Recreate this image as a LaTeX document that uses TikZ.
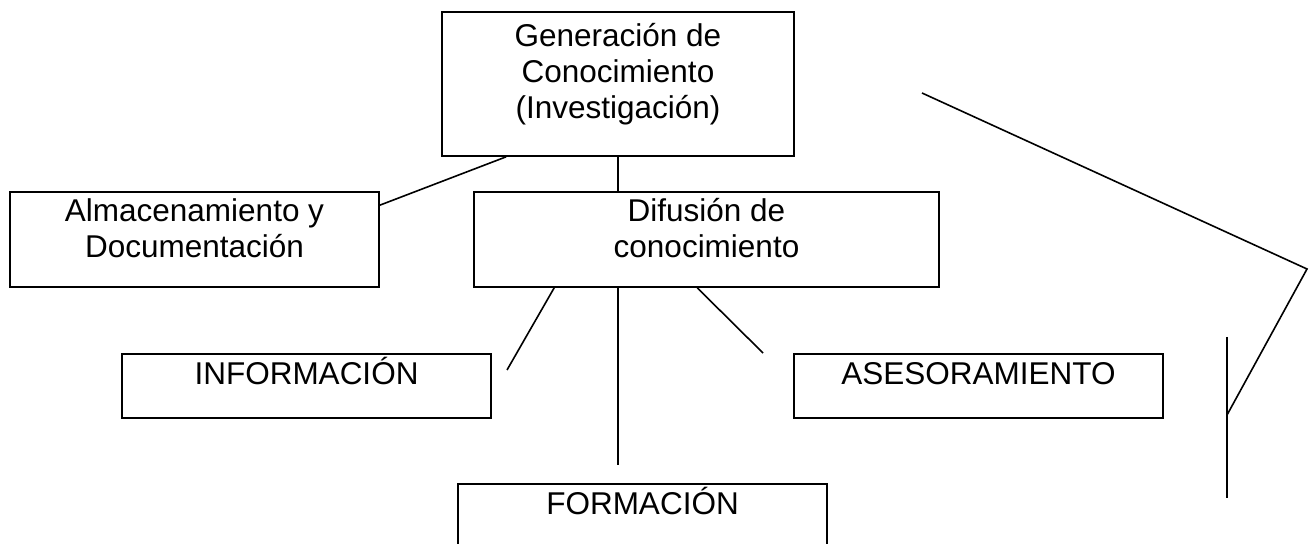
\documentclass[tikz,border=0pt]{standalone}
\usepackage{fontspec}
\setmainfont{Liberation Sans}
\usepackage{tikz}
\usetikzlibrary{calc}

\begin{document}
\begin{tikzpicture}[x=0.5pt,y=-0.5pt,line width=0.8pt,
  box/.style={draw,inner sep=0pt,align=center,minimum width=184.5pt,font=\fontsize{15.75}{18}\selectfont},
  low/.style={box,text height=15.5pt,text depth=16.5pt},
  tall/.style={box,text height=33pt,text depth=14.5pt}]
\useasboundingbox (0,0) rectangle (1311,544);
\node[box,minimum width=176pt,text height=53.5pt,text depth=18.5pt] (gen) at (618,84) {Generación de\\Conocimiento\\(Investigación)};
\node[tall] (alm) at (194.5,239.5) {Almacenamiento y\\Documentación};
\node[tall,minimum width=232.5pt] (dif) at (706.5,239.5) {Difusión de\\conocimiento};
\node[low] (info) at (306.5,386) {INFORMACIÓN};
\node[low] (ases) at (978.5,386) {ASESORAMIENTO};
\node[low] (form) at (642.5,516) {FORMACIÓN};

\coordinate (infoend) at (507,370);
\coordinate (formend) at (618,465);
\coordinate (asesend) at (763,353);
\coordinate (far1) at (922,93);
\coordinate (far2) at (1307,269);
\coordinate (far3) at (1227,415);
\coordinate (bar1) at (1227,337);
\coordinate (bar2) at (1227,498);

\draw ($(gen.south west)+(65,0)$) -- ($(alm.north east)+(0,14)$);
\draw (gen.south) -- (gen.south |- dif.north);
\draw ($(dif.south west)+(81,0)$) -- (infoend);
\draw (dif.south -| formend) -- (formend);
\draw ($(dif.south west)+(224,0)$) -- (asesend);
\draw (far1) -- (far2) -- (far3);
\draw (bar1) -- (bar2);
\end{tikzpicture}
\end{document}
